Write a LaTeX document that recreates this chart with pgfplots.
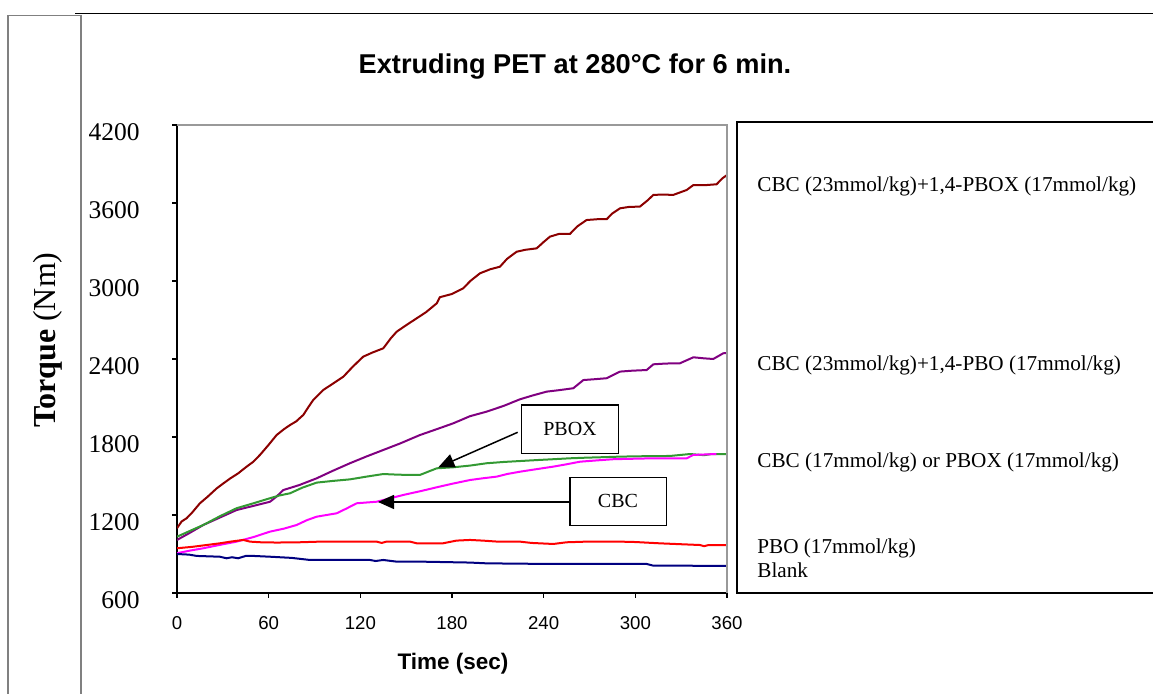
\documentclass[border=0pt]{standalone}
\usepackage{fontspec}
\setmainfont{Liberation Serif}
\setsansfont{Liberation Sans}
\usepackage{pgfplots}
\pgfplotsset{compat=1.18}
\usetikzlibrary{arrows.meta}

\definecolor{cbcpbox}{HTML}{8B0000}
\definecolor{cbcpbo}{HTML}{800080}
\definecolor{pbox}{HTML}{339933}
\definecolor{cbc}{HTML}{FF00FF}
\definecolor{pbo}{HTML}{FF0000}
\definecolor{blank}{HTML}{000080}

\begin{document}
\begin{tikzpicture}
\useasboundingbox (0,0) rectangle (576.5pt,347pt);
\begin{axis}[
    at={(88.5pt,50.5pt)}, anchor=south west,
    scale only axis, width=275pt, height=234pt,
    xmin=0, xmax=360, ymin=600, ymax=4200,
    xtick={0,60,...,360}, ytick={600,1200,...,4200},
    axis x line*=bottom, axis y line*=left,
    axis line style={black, line width=0.75pt},
    tick align=outside, major tick length=2.5pt,
    tick style={black, line width=0.6pt},
    /pgf/number format/assume math mode=true,
    /pgf/number format/1000 sep={},
    yticklabel style={font=\fontsize{12.75}{14}\selectfont, anchor=east,
      inner sep=0pt, xshift=-16pt, yshift=-3.5pt},
    xticklabel style={font=\sffamily\fontsize{9.3}{11}\selectfont, anchor=north,
      inner sep=0pt, yshift=-9pt},
    every axis plot/.append style={line width=1pt, no marks},
  ]
  % CBC (23)+1,4-PBOX (17)
  \addplot[cbcpbox] coordinates {
    (0,1098) (3,1150) (6.3,1175) (10,1220) (15,1290) (20,1340) (26,1405)
    (30,1440) (34.7,1480) (40,1520) (45.6,1572) (50,1610) (54.3,1662)
    (60,1740) (65.2,1815) (70,1860) (74,1892) (78,1920) (82.7,1970)
    (86,2030) (89.2,2085) (95.8,2162) (102,2210) (108.9,2264) (115,2340)
    (121.9,2418) (128,2450) (135,2482) (140,2560) (143.8,2610) (150,2660)
    (156.9,2713) (163,2760) (170,2828) (172,2875) (180,2900) (187.4,2944)
    (192,3000) (198.3,3059) (205,3090) (211.4,3110) (216,3170) (222.3,3225)
    (228,3240) (235.4,3251) (240,3300) (244.1,3341) (250,3362) (257.2,3362)
    (262,3420) (268.1,3469) (275,3475) (281.2,3475) (285,3520) (290,3559)
    (296,3570) (303,3572) (308,3620) (311.8,3662) (318,3665) (324.8,3662)
    (333.6,3700) (338,3738) (346.7,3738) (353.2,3744) (357,3790) (360,3815)};
  % CBC (23)+1,4-PBO (17)
  \addplot[cbcpbo] coordinates {
    (0,1008) (8,1060) (17.2,1123) (28,1180) (39,1238) (50,1270) (60.9,1302)
    (65,1340) (69.6,1392) (80,1430) (91.4,1482) (102,1540) (113.2,1598)
    (124,1650) (135,1700) (146,1750) (159,1815) (170,1860) (180.8,1905)
    (191.8,1960) (202.7,1995) (214,2040) (224.5,2090) (233,2120) (242,2149)
    (250,2160) (259.4,2175) (266,2238) (274,2245) (281.2,2252) (290,2303)
    (298,2310) (307.4,2315) (311.8,2359) (320,2365) (329.2,2367) (338,2413)
    (345,2405) (351,2400) (357.6,2444) (360,2446)};
  % CBC (17) or PBOX (17) -- PBOX
  \addplot[pbox] coordinates {
    (0,1033) (8,1075) (17.2,1123) (28,1190) (39,1252) (50,1290) (60.9,1329)
    (67,1350) (74,1367) (82,1410) (91.4,1449) (102,1462) (113.2,1474)
    (124,1495) (135,1515) (145,1510) (152.5,1508) (159,1508) (170,1559)
    (180.8,1567) (191.8,1580) (202.7,1598) (214,1608) (224.5,1615)
    (235,1622) (246.3,1629) (257,1636) (268.1,1641) (280,1645) (290,1649)
    (305,1652) (322.7,1654) (335.8,1669) (345,1660) (350,1669) (360,1669)};
  % CBC (17)
  \addplot[cbc] coordinates {
    (0,906) (8,925) (17.2,944) (28,970) (39,995) (50,1030) (60.9,1072)
    (70,1095) (78.3,1123) (85,1160) (91.4,1187) (98,1200) (104.5,1213)
    (111,1250) (117.6,1290) (124,1296) (130.7,1302) (140,1330) (148.1,1354)
    (160,1385) (170,1413) (180,1440) (191.8,1469) (200,1482) (209.2,1495)
    (216,1515) (224.5,1533) (235,1552) (246.3,1572) (255,1590) (263.8,1610)
    (275,1620) (285.6,1629) (300,1633) (311.8,1636) (333.6,1636) (338,1662)
    (353,1669)};
  % PBO (17)
  \addplot[pbo] coordinates {
    (0,944) (10,955) (20,970) (28,982) (35,995) (43.4,1008) (47.8,995)
    (55,990) (65.2,988) (80,990) (93.6,995) (110,995) (130.7,995) (134,985)
    (137,995) (152.5,995) (157,982) (174,982) (183,1003) (191.8,1008)
    (200,1003) (210,995) (224.5,995) (232,985) (246.3,977) (255,990)
    (268,995) (290,995) (300,992) (316,982) (330,975) (342.3,969) (345,960)
    (348,969) (360,969)};
  % Blank
  \addplot[blank] coordinates {
    (0,900) (8,895) (12.9,885) (28,879) (32.5,867) (36,875) (40,867)
    (45,885) (50,885) (60.9,879) (75,870) (87,854) (100,854) (126.3,854)
    (130,846) (135,854) (143.8,841) (160,841) (191.8,834) (202.7,828)
    (220,826) (246.3,823) (280,823) (307.4,823) (311.8,810) (330,810)
    (360,808)};
\end{axis}

% everything else in reference pixel coordinates
\begin{scope}[shift={(0pt,347pt)}, x=0.5pt, y=-0.5pt]
  % outer frames
  \draw[gray, line width=0.7pt] (8,720) -- (8,15.5) -- (81,15.5) -- (81,720);
  \draw[black, line width=0.7pt] (75,13.5) -- (1160,13.5);
  % top and right edge of plot area
  \draw[gray!80, line width=0.75pt] (177,125) -- (727,125) -- (727,593);
  % legend box
  \draw[black, line width=0.6pt] (1160,122) -- (737,122) -- (737,593) -- (1160,593);
  \begin{scope}[every node/.style={anchor=base west, inner sep=0pt,
      font=\fontsize{10.6}{12}\selectfont}]
    \node at (757,192) {CBC (23mmol/kg)+1,4-PBOX (17mmol/kg)};
    \node at (757,371) {CBC (23mmol/kg)+1,4-PBO (17mmol/kg)};
    \node at (757,468) {CBC (17mmol/kg) or PBOX (17mmol/kg)};
    \node at (757,554) {PBO (17mmol/kg)};
    \node at (757,578) {Blank};
  \end{scope}
  % title and axis titles
  \node[anchor=base, inner sep=0pt, font=\sffamily\bfseries\fontsize{13.6}{16}\selectfont]
    at (575,74) {Extruding PET at 280°C for 6 min.};
  \node[anchor=base, inner sep=0pt, font=\sffamily\bfseries\fontsize{11.25}{13}\selectfont]
    at (453,670) {Time (sec)};
  \node[rotate=90, inner sep=0pt, font=\fontsize{16}{18}\selectfont]
    at (48,340) {\textbf{Torque} (Nm)};
  % annotations
  \draw[line width=0.75pt, fill=white] (521.7,405) rectangle (618.3,453.3);
  \node[font=\fontsize{10}{11}\selectfont] at (570,429) {PBOX};
  \draw[line width=0.75pt, -{Triangle[length=8pt,width=7pt]}] (517.7,432.3) -- (438.3,467.3);
  \draw[line width=0.75pt, fill=white] (570,477.3) rectangle (666.7,525.7);
  \node[font=\fontsize{10}{11}\selectfont] at (618,501) {CBC};
  \draw[line width=0.75pt, -{Triangle[length=8pt,width=7pt]}] (570,502) -- (378,502);
\end{scope}
\end{tikzpicture}
\end{document}
